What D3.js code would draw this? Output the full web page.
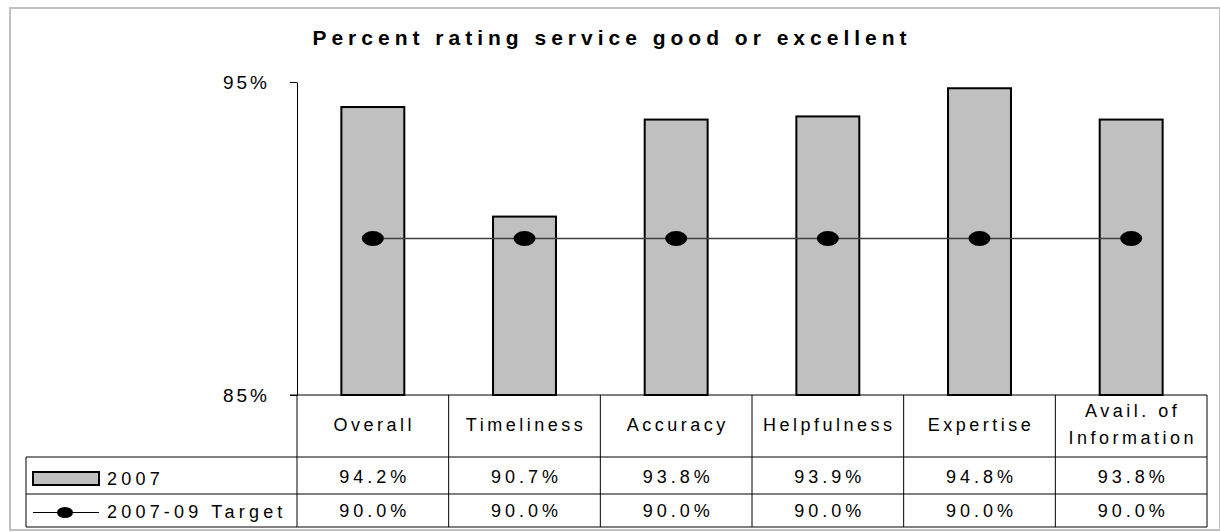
<!DOCTYPE html>
<html>
<head>
<meta charset="utf-8">
<script src="https://cdn.jsdelivr.net/npm/d3@7"></script>
<style>
  body { margin: 0; background: #fff; }
  svg { display: block; font-family: "Liberation Sans", Arial, sans-serif; }
</style>
</head>
<body>
<svg id="chart"></svg>
<script>
// *** Data ***
var categories = ["Overall", "Timeliness", "Accuracy", "Helpfulness", "Expertise", "Avail. of|Information"];
var values2007 = [94.2, 90.7, 93.8, 93.9, 94.8, 93.8];
var target = [90.0, 90.0, 90.0, 90.0, 90.0, 90.0];
var seriesNames = ["2007", "2007-09 Target"];
var yTicks = [85, 95];

// *** Layout ***
var svgWidth = 1220, svgHeight = 532;
var plotLeft = 297, plotRight = 1207, plotTop = 82, plotBottom = 395;
var legendLeft = 26;
var rowTop = [395, 457, 494], tableBottom = 527;

var svg = d3.select("#chart")
    .attr("width", svgWidth)
    .attr("height", svgHeight);

// outer frame
svg.append("rect")
    .attr("x", 10).attr("y", 8)
    .attr("width", 1210).attr("height", 522)
    .attr("fill", "none")
    .attr("stroke", "#c0c0c0")
    .attr("stroke-width", 2);

// title
svg.append("text")
    .attr("x", 612).attr("y", 45)
    .attr("text-anchor", "middle")
    .attr("font-weight", "bold")
    .attr("font-size", 21)
    .attr("letter-spacing", 5)
    .text("Percent rating service good or excellent");

// *** Scales ***
var xScale = d3.scaleBand()
    .domain(categories)
    .range([plotLeft, plotRight])
    .paddingInner(0.585)
    .paddingOuter(0.2925);

var yScale = d3.scaleLinear()
    .domain([85, 95])
    .range([plotBottom, plotTop]);

// y axis
var yAxis = d3.axisLeft(yScale)
    .tickValues(yTicks)
    .tickSize(7)
    .tickSizeOuter(0)
    .tickPadding(20)
    .tickFormat(function (d) { return d + "%"; });

var gy = svg.append("g")
    .attr("transform", "translate(" + plotLeft + ",0)")
    .call(yAxis);
gy.select(".domain").attr("stroke", "#000");
gy.selectAll(".tick line").attr("stroke", "#000");
gy.selectAll(".tick text")
    .attr("font-size", 19)
    .attr("letter-spacing", 3)
    .attr("font-family", "Liberation Sans, Arial, sans-serif")
    .attr("fill", "#000");

// *** Bars ***
svg.selectAll("rect.bar")
    .data(values2007)
    .enter()
    .append("rect")
    .attr("class", "bar")
    .attr("x", function (d, i) { return xScale(categories[i]); })
    .attr("y", function (d) { return yScale(d); })
    .attr("width", xScale.bandwidth())
    .attr("height", function (d) { return yScale(85) - yScale(d); })
    .attr("fill", "#c0c0c0")
    .attr("stroke", "#000")
    .attr("stroke-width", 2);

// *** Target line ***
var cx = function (d, i) { return xScale(categories[i]) + xScale.bandwidth() / 2; };
var line = d3.line()
    .x(cx)
    .y(function (d) { return yScale(d); });

svg.append("path")
    .datum(target)
    .attr("d", line)
    .attr("fill", "none")
    .attr("stroke", "#404040")
    .attr("stroke-width", 1.5);

svg.selectAll("ellipse.marker")
    .data(target)
    .enter()
    .append("ellipse")
    .attr("class", "marker")
    .attr("cx", cx)
    .attr("cy", function (d) { return yScale(d); })
    .attr("rx", 11)
    .attr("ry", 7.5)
    .attr("fill", "#000");

// *** Data table ***
var grid = svg.append("g").attr("stroke", "#000").attr("stroke-width", 1);
var step = xScale.step();

// horizontal lines
grid.append("line").attr("x1", plotLeft - 7).attr("x2", plotRight).attr("y1", rowTop[0]).attr("y2", rowTop[0]);
[rowTop[1], rowTop[2], tableBottom].forEach(function (y) {
    grid.append("line").attr("x1", legendLeft).attr("x2", plotRight).attr("y1", y).attr("y2", y);
});
// vertical lines
categories.forEach(function (c, i) {
    var x = plotLeft + step * (i + 1);
    grid.append("line").attr("x1", x).attr("x2", x).attr("y1", rowTop[0]).attr("y2", tableBottom);
});
grid.append("line").attr("x1", plotLeft).attr("x2", plotLeft).attr("y1", rowTop[0]).attr("y2", tableBottom);
grid.append("line").attr("x1", legendLeft).attr("x2", legendLeft).attr("y1", rowTop[1]).attr("y2", tableBottom);

// category labels
var catText = svg.selectAll("text.cat")
    .data(categories)
    .enter()
    .append("text")
    .attr("class", "cat")
    .attr("text-anchor", "middle")
    .attr("font-size", 18)
    .attr("letter-spacing", 3.5);
catText.each(function (d, i) {
    var parts = d.split("|");
    var x = cx(d, i) + 1.5;
    var t = d3.select(this);
    if (parts.length === 1) {
        t.append("tspan").attr("x", x).attr("y", 431).text(parts[0]);
    } else {
        t.append("tspan").attr("x", x).attr("y", 417).text(parts[0]);
        t.append("tspan").attr("x", x).attr("y", 444).text(parts[1]);
    }
});

// value rows
var fmt = function (d) { return d.toFixed(1) + "%"; };
[values2007, target].forEach(function (series, r) {
    svg.selectAll("text.val" + r)
        .data(series)
        .enter()
        .append("text")
        .attr("class", "val" + r)
        .attr("x", function (d, i) { return cx(d, i) + 2; })
        .attr("y", r === 0 ? 483 : 517)
        .attr("text-anchor", "middle")
        .attr("font-size", 18)
        .attr("letter-spacing", 4)
        .text(fmt);
});

// legend keys
svg.append("rect")
    .attr("x", 33).attr("y", 472)
    .attr("width", 66).attr("height", 13)
    .attr("fill", "#c0c0c0")
    .attr("stroke", "#000")
    .attr("stroke-width", 2);
svg.append("line")
    .attr("x1", 33).attr("x2", 99)
    .attr("y1", 512.5).attr("y2", 512.5)
    .attr("stroke", "#000").attr("stroke-width", 1.2);
svg.append("ellipse")
    .attr("cx", 65).attr("cy", 512.5)
    .attr("rx", 8).attr("ry", 5.5)
    .attr("fill", "#000");

svg.selectAll("text.legend")
    .data(seriesNames)
    .enter()
    .append("text")
    .attr("class", "legend")
    .attr("x", 107)
    .attr("y", function (d, i) { return i === 0 ? 485 : 518; })
    .attr("font-size", 18)
    .attr("letter-spacing", 4.2)
    .text(function (d) { return d; });
</script>
</body>
</html>
